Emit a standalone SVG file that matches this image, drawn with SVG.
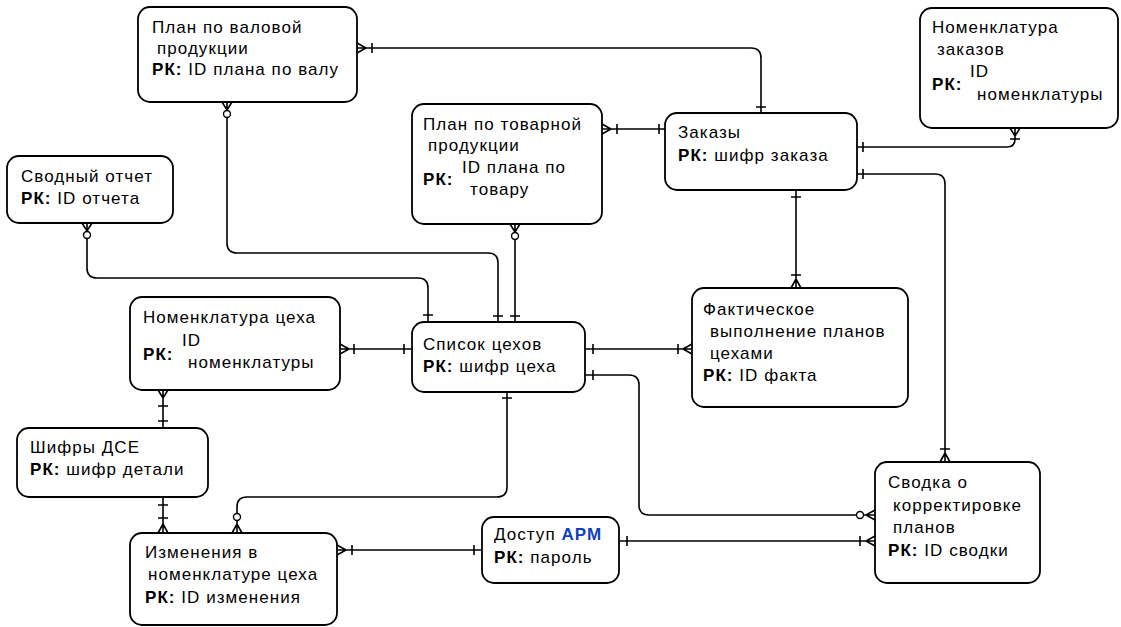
<svg xmlns="http://www.w3.org/2000/svg" width="1121" height="627" viewBox="0 0 1121 627">
<style>
.box{fill:#fff;stroke:#000;stroke-width:1.8}
.t{font-family:"Liberation Sans",Arial,sans-serif;font-size:17px;letter-spacing:1.05px;fill:#000}
.b{font-weight:bold}
.ln{fill:none;stroke:#000;stroke-width:1.6}
.c{fill:#fff;stroke:#000;stroke-width:1.4}
.blue{fill:#1040c0}
</style>
<rect width="1121" height="627" fill="#fff"/>
<g id="connectors">
<path class="ln" d="M357,48 H751 Q761,48 761,58 V113 M357,43 L366,48 L357,53 M372,43 V53 M756,107 H766"/>
<path class="ln" d="M602,129 H665 M602,124 L611,129 L602,134 M617,124 V134 M659,124 V134"/>
<path class="ln" d="M857,147 H1007 Q1015,147 1015,139 V128 M863,142 V152 M1010,128 L1015,136 L1020,128 M1010,139 H1020"/>
<path class="ln" d="M857,174 H935 Q945,174 945,184 V462 M863,169 V179 M940,449 H950 M940,462 L945,453 L950,462"/>
<path class="ln" d="M796,190 V288 M791,197 H801 M791,275 H801 M791,288 L796,279 L801,288"/>
<path class="ln" d="M227,102 V243 Q227,253 237,253 H488 Q498,253 498,263 V322 M222,102 L227,110 L232,102 M493,316 H503"/>
<circle class="c" cx="227" cy="114" r="3.5"/>
<path class="ln" d="M515,224 V322 M510,224 L515,232 L520,224 M510,316 H520"/>
<circle class="c" cx="515" cy="236" r="3.5"/>
<path class="ln" d="M87,223 V268 Q87,278 97,278 H418 Q428,278 428,288 V322 M82,223 L87,231 L92,223 M423,315 H433"/>
<circle class="c" cx="87" cy="235" r="3.5"/>
<path class="ln" d="M340,349 H412 M340,344 L349,349 L340,354 M354,344 V354 M404,344 V354"/>
<path class="ln" d="M585,349 H692 M593,344 V354 M678,344 V354 M692,344 L683,349 L692,354"/>
<path class="ln" d="M585,375 H629 Q639,375 639,385 V505 Q639,515 649,515 H875 M593,370 V380 M875,510 L866,515 L875,520"/>
<circle class="c" cx="860" cy="515" r="3.5"/>
<path class="ln" d="M507,392 V487 Q507,497 497,497 H247 Q237,497 237,507 V533 M502,398 H512 M232,533 L237,524 L242,533"/>
<circle class="c" cx="237" cy="517" r="3.5"/>
<path class="ln" d="M163,390 V428 M158,390 L163,398 L168,390 M158,406 H168 M158,421 H168"/>
<path class="ln" d="M163,497 V533 M158,505 H168 M158,518 H168 M158,533 L163,524 L168,533"/>
<path class="ln" d="M337,550 H482 M337,545 L346,550 L337,555 M352,545 V555 M474,545 V555"/>
<path class="ln" d="M619,541 H875 M627,536 V546 M860,536 V546 M875,536 L866,541 L875,546"/>
</g>
<g id="plan_val">
<rect class="box" x="138" y="7" width="219" height="95" rx="12"/>
<text class="t" x="152" y="33">План по валовой</text>
<text class="t" x="157" y="54">продукции</text>
<text class="t" x="152" y="75"><tspan class="b">РК:</tspan> ID плана по валу</text>
</g>
<g id="nom_zak">
<rect class="box" x="920" y="8" width="198" height="120" rx="12"/>
<text class="t" x="932" y="33">Номенклатура</text>
<text class="t" x="937" y="55">заказов</text>
<text class="t b" x="932" y="90">РК:</text>
<text class="t" x="970" y="77">ID</text>
<text class="t" x="977" y="100">номенклатуры</text>
</g>
<g id="plan_tov">
<rect class="box" x="412" y="104" width="190" height="120" rx="12"/>
<text class="t" x="423" y="130">План по товарной</text>
<text class="t" x="428" y="151">продукции</text>
<text class="t b" x="423" y="185">РК:</text>
<text class="t" x="462" y="173">ID плана по</text>
<text class="t" x="470" y="195">товару</text>
</g>
<g id="zakazy">
<rect class="box" x="665" y="113" width="192" height="77" rx="12"/>
<text class="t" x="678" y="138">Заказы</text>
<text class="t" x="678" y="161"><tspan class="b">РК:</tspan> шифр заказа</text>
</g>
<g id="svod_otchet">
<rect class="box" x="7" y="156" width="166" height="67" rx="12"/>
<text class="t" x="21" y="182">Сводный отчет</text>
<text class="t" x="21" y="204"><tspan class="b">РК:</tspan> ID отчета</text>
</g>
<g id="nom_ceha">
<rect class="box" x="130" y="297" width="210" height="93" rx="12"/>
<text class="t" x="143" y="323">Номенклатура цеха</text>
<text class="t b" x="143" y="360">РК:</text>
<text class="t" x="182" y="346">ID</text>
<text class="t" x="188" y="368">номенклатуры</text>
</g>
<g id="spisok">
<rect class="box" x="412" y="322" width="173" height="70" rx="12"/>
<text class="t" x="423" y="350">Список цехов</text>
<text class="t" x="423" y="372"><tspan class="b">РК:</tspan> шифр цеха</text>
</g>
<g id="fakt">
<rect class="box" x="692" y="288" width="216" height="119" rx="12"/>
<text class="t" x="703" y="315">Фактическое</text>
<text class="t" x="710" y="337">выполнение планов</text>
<text class="t" x="710" y="359">цехами</text>
<text class="t" x="703" y="381"><tspan class="b">РК:</tspan> ID факта</text>
</g>
<g id="shifry">
<rect class="box" x="17" y="428" width="191" height="69" rx="12"/>
<text class="t" x="30" y="453">Шифры ДСЕ</text>
<text class="t" x="30" y="475"><tspan class="b">РК:</tspan> шифр детали</text>
</g>
<g id="izmen">
<rect class="box" x="130" y="533" width="207" height="92" rx="12"/>
<text class="t" x="145" y="558">Изменения в</text>
<text class="t" x="148" y="580">номенклатуре цеха</text>
<text class="t" x="145" y="603"><tspan class="b">РК:</tspan> ID изменения</text>
</g>
<g id="dostup">
<rect class="box" x="482" y="517" width="137" height="66" rx="12"/>
<text class="t" x="494" y="540">Доступ <tspan class="b blue">АРМ</tspan></text>
<text class="t" x="494" y="563"><tspan class="b">РК:</tspan> пароль</text>
</g>
<g id="svodka">
<rect class="box" x="875" y="462" width="165" height="121" rx="12"/>
<text class="t" x="888" y="488">Сводка о</text>
<text class="t" x="893" y="511">корректировке</text>
<text class="t" x="893" y="533">планов</text>
<text class="t" x="888" y="556"><tspan class="b">РК:</tspan> ID сводки</text>
</g>
</svg>
